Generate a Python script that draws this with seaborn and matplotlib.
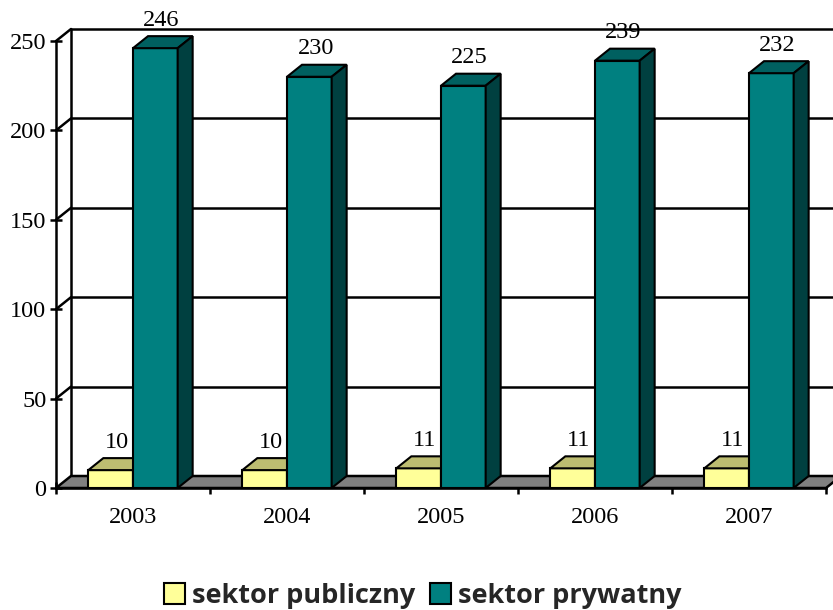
import pandas as pd
import matplotlib
matplotlib.use("Agg")
import matplotlib.pyplot as plt
from matplotlib.patches import Polygon
import seaborn as sns

years = ["2003", "2004", "2005", "2006", "2007"]
publiczny = [10, 10, 11, 11, 11]
prywatny = [246, 230, 225, 239, 232]
series_names = ["sektor publiczny", "sektor prywatny"]
colors = ["#FFFF99", "#008080"]
top_colors = ["#BDBD71", "#006060"]
side_colors = ["#BDBD71", "#004040"]
yticks = [0, 50, 100, 150, 200, 250]

W, H = 833, 610
sns.set_theme(style="white")
plt.rcParams["font.family"] = ["Liberation Serif", "DejaVu Serif"]

table = pd.DataFrame({"rok": years * 2,
                      "sektor": [series_names[0]] * 5 + [series_names[1]] * 5,
                      "wartosc": publiczny + prywatny})

fig = plt.figure(figsize=(W / 100, H / 100), dpi=100)
ax = fig.add_axes([56 / W, (H - 488) / H, 770 / W, 447 / H])
sns.barplot(data=table, x="rok", y="wartosc", hue="sektor", palette=colors,
            width=0.58, gap=0, saturation=1, edgecolor="black", linewidth=1.5,
            ax=ax, zorder=3)
ax.set_xlim(-0.5, 4.5)
ax.set_ylim(0, 250)
ax.set_xlabel("")
ax.set_ylabel("")

# depth of the fake 3d box, 15px right and 12px up
dx = 15 * 5 / 770
dy = 12 * 250 / 447
x0, x1 = ax.get_xlim()
lw = 1.8

# back wall and floor
for y in yticks[1:]:
    ax.plot([x0 + dx, x1 + dx], [y + dy, y + dy], color="black", lw=lw, clip_on=False, zorder=1)
    ax.plot([x0, x0 + dx], [y, y + dy], color="black", lw=lw, clip_on=False, zorder=1)
ax.plot([x0 + dx, x0 + dx], [dy, 250 + dy], color="black", lw=lw, clip_on=False, zorder=1)
ax.add_patch(Polygon([(x0, 0), (x0 + dx, dy), (x1 + dx, dy), (x1, 0)], closed=True,
                     facecolor="#808080", edgecolor="black", lw=lw, clip_on=False, zorder=1.5))

# side and top faces from the bars seaborn drew
for i, cont in enumerate(ax.containers):
    for bar in cont:
        bar.set_zorder(3 + i)
        bar.set_clip_on(False)
        left, right, top = bar.get_x(), bar.get_x() + bar.get_width(), bar.get_height()
        ax.add_patch(Polygon([(left, top), (left + dx, top + dy), (right + dx, top + dy), (right, top)],
                             closed=True, facecolor=top_colors[i], edgecolor="black", lw=1.5,
                             clip_on=False, zorder=3 + i))
        ax.add_patch(Polygon([(right, 0), (right + dx, dy), (right + dx, top + dy), (right, top)],
                             closed=True, facecolor=side_colors[i], edgecolor="black", lw=1.5,
                             clip_on=False, zorder=3 + i))
    labels = [str(v) for v in (publiczny if i == 0 else prywatny)]
    for bar, lab in zip(cont, labels):
        ax.annotate(lab, (bar.get_x() + bar.get_width() / 2, bar.get_height()),
                    xytext=(4.5, 20), textcoords="offset points", ha="center", va="center",
                    fontsize=17.5, color="black", annotation_clip=False, zorder=6)

# axes lines and ticks
sns.despine(ax=ax, top=True, right=True)
for side in ["left", "bottom"]:
    ax.spines[side].set_linewidth(lw)
    ax.spines[side].set_color("black")
    ax.spines[side].set_zorder(2.5)
ax.set_yticks(yticks)
ax.set_xticks(range(5))
ax.set_xticklabels(years)
ax.set_xticks([i - 0.5 for i in range(6)], minor=True)
ax.tick_params(axis="x", which="major", length=0, pad=14, labelsize=17.5, colors="black")
ax.tick_params(axis="x", which="minor", length=8, width=lw, direction="inout", color="black", bottom=True)
ax.tick_params(axis="y", which="major", length=8, width=lw, direction="inout", pad=3,
               labelsize=17.5, colors="black", left=True)

sns.move_legend(ax, "center", bbox_to_anchor=(423 / W, 1 - 596 / H), bbox_transform=fig.transFigure,
                ncol=2, frameon=False, title=None, handlelength=0.78, handleheight=0.78,
                handletextpad=0.25, columnspacing=0.55,
                prop={"family": "Open Sans", "weight": "bold", "size": 19.5})
for handle in ax.get_legend().get_patches():
    handle.set_edgecolor("black")
    handle.set_linewidth(1.5)

fig.savefig("out.png", dpi=100)
